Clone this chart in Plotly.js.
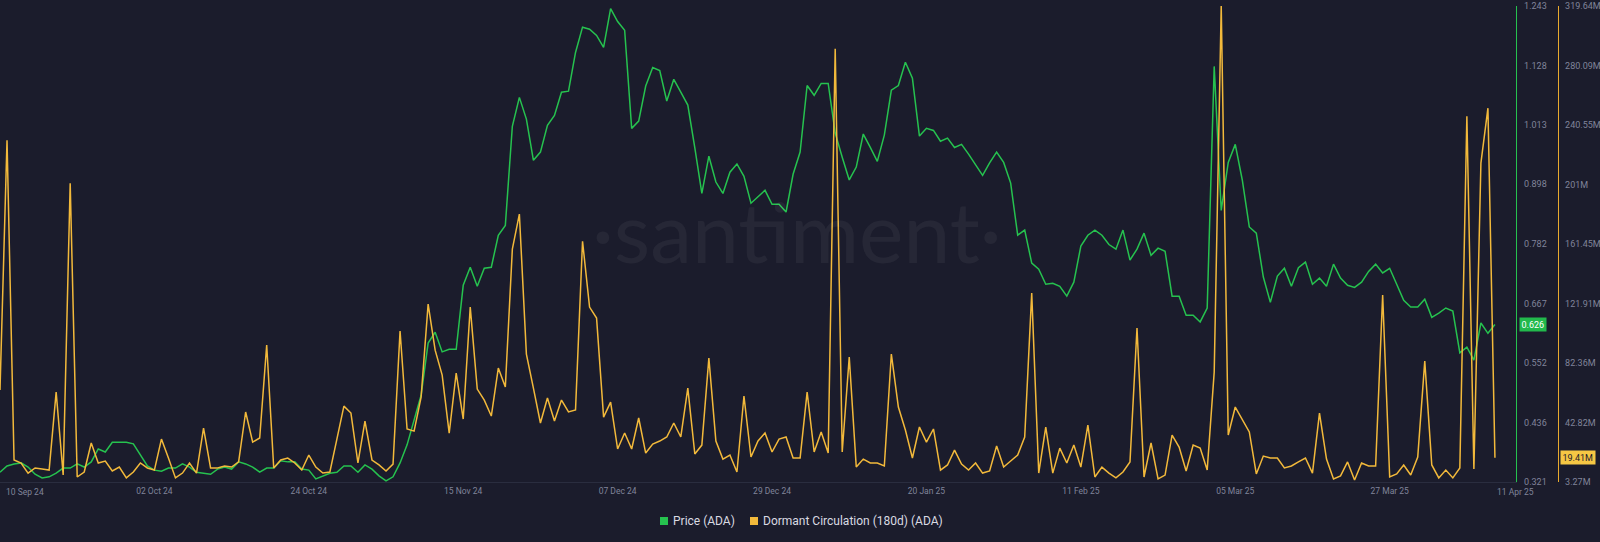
<!DOCTYPE html>
<html>
<head>
<meta charset="utf-8">
<script src="https://cdn.plot.ly/plotly-3.0.1.min.js"></script>
<style>
  html, body { margin: 0; padding: 0; background: #1b1c2c; }
  #chart { width: 1600px; height: 542px; }
</style>
</head>
<body>
<div id="chart"></div>
<script>
// ---- Data (daily, starting 10 Sep 2024, ending 11 Apr 2025) ----
const startDate = '2024-09-10';

// Price (ADA), USD
const price = [
  0.340,0.352,0.356,0.358,0.350,0.336,0.329,0.331,0.338,0.348,
  0.348,0.356,0.350,0.360,0.385,0.379,0.398,0.398,0.398,0.395,
  0.373,0.352,0.344,0.342,0.348,0.348,0.356,0.350,0.340,0.338,
  0.336,0.346,0.350,0.346,0.360,0.356,0.350,0.340,0.348,0.348,
  0.362,0.360,0.360,0.346,0.344,0.327,0.333,0.338,0.340,0.352,
  0.352,0.340,0.354,0.346,0.333,0.323,0.331,0.358,0.393,0.439,
  0.489,0.590,0.611,0.573,0.578,0.578,0.702,0.737,0.700,0.735,
  0.737,0.799,0.818,1.010,1.066,1.024,0.944,0.960,1.012,1.031,
  1.076,1.078,1.153,1.202,1.198,1.186,1.163,1.238,1.213,1.196,
  1.006,1.020,1.088,1.124,1.118,1.059,1.101,1.076,1.051,0.968,
  0.880,0.952,0.902,0.880,0.921,0.937,0.913,0.861,0.873,0.886,
  0.859,0.859,0.844,0.917,0.960,1.089,1.070,1.093,1.093,0.997,
  0.950,0.906,0.931,0.995,0.969,0.942,0.993,1.080,1.089,1.134,
  1.103,0.991,1.006,1.002,0.981,0.987,0.969,0.975,0.956,0.935,
  0.915,0.939,0.960,0.940,0.900,0.799,0.809,0.745,0.733,0.704,
  0.706,0.700,0.681,0.708,0.778,0.799,0.809,0.799,0.781,0.772,
  0.809,0.751,0.772,0.803,0.760,0.774,0.768,0.681,0.681,0.644,
  0.644,0.631,0.658,1.126,0.847,0.940,0.975,0.906,0.815,0.803,
  0.718,0.669,0.720,0.735,0.700,0.736,0.747,0.704,0.716,0.700,
  0.743,0.716,0.702,0.698,0.708,0.729,0.743,0.726,0.735,0.704,
  0.673,0.660,0.660,0.675,0.640,0.648,0.658,0.652,0.571,0.582,
  0.557,0.629,0.609,0.626
];

// Dormant Circulation (180d) (ADA), millions
const dormant = [
  64.4,230.4,17.9,15.9,9.2,12.6,11.9,11.2,63.0,7.9,
  201.8,6.6,9.9,29.2,15.9,17.2,10.6,13.2,6.0,9.9,
  15.9,12.6,11.2,31.8,19.2,6.0,9.2,15.9,9.2,39.1,
  12.6,12.6,13.9,13.2,16.6,49.8,29.8,32.5,94.3,12.6,
  17.9,19.2,15.9,11.2,21.2,13.2,9.2,9.9,31.8,53.7,
  49.1,15.9,43.8,17.9,14.6,10.6,15.2,103.6,38.5,37.1,
  59.7,121.5,90.9,74.3,35.8,75.7,45.1,119.5,65.0,57.7,
  47.1,79.0,66.4,158.0,181.3,88.3,65.7,42.5,59.1,43.8,
  57.7,49.8,51.1,163.3,119.5,112.2,46.4,56.4,25.2,35.8,
  25.2,45.8,22.5,28.5,30.5,33.2,42.5,33.2,65.7,21.9,
  27.8,85.6,30.5,18.5,21.2,9.9,60.4,19.9,30.5,35.8,
  23.2,31.8,33.2,19.2,19.2,63.0,23.2,36.5,22.5,291.3,
  23.2,86.3,13.2,18.5,15.9,15.9,13.9,88.3,53.1,37.8,
  19.2,39.8,29.8,38.5,11.2,14.6,24.5,15.2,11.2,15.9,
  9.2,10.6,27.2,13.2,17.2,21.2,33.2,128.8,9.2,39.8,
  9.2,25.8,15.9,27.8,13.2,41.1,6.6,13.2,9.2,6.0,
  9.9,16.6,105.6,6.6,29.2,5.3,7.9,34.5,26.5,10.6,
  27.8,25.8,11.2,76.3,319.64,34.5,53.1,45.1,36.5,8.6,
  20.5,19.2,19.2,12.6,13.9,16.6,19.2,9.2,49.1,18.5,
  5.3,7.3,16.6,4.6,15.9,13.9,13.9,127.5,6.6,8.6,
  14.6,7.9,19.9,83.6,14.6,6.0,11.2,6.0,12.6,246.4,
  11.9,215.2,251.7,19.41
];

// Axis ticks
const xTickDates  = ['2024-10-02','2024-10-24','2024-11-15','2024-12-07','2024-12-29','2025-01-20','2025-02-11','2025-03-05','2025-03-27'];
const xTickLabels = ['02 Oct 24','24 Oct 24','15 Nov 24','07 Dec 24','29 Dec 24','20 Jan 25','11 Feb 25','05 Mar 25','27 Mar 25'];
const xEdgeDates  = ['2024-09-10','2025-04-11'];
const xEdgeLabels = ['10 Sep 24','11 Apr 25'];
const priceTicks  = [0.321,0.436,0.552,0.667,0.782,0.898,1.013,1.128,1.243];
const dormantTicks = [3.27,42.82,82.36,121.91,161.45,201,240.55,280.09,319.64];
const dormantTickLabels = ['3.27M','42.82M','82.36M','121.91M','161.45M','201M','240.55M','280.09M','319.64M'];
const seriesNames = ['Price (ADA)', 'Dormant Circulation (180d) (ADA)'];
const lastPriceLabel = '0.626';
const lastDormantLabel = '19.41M';

// ---- Build dates ----
const dates = [];
{
  const [yy, mm, dd] = startDate.split('-').map(Number);
  for (let i = 0; i < price.length; i++) {
    const d = new Date(Date.UTC(yy, mm - 1, dd + i));
    dates.push(d.toISOString().slice(0, 10));
  }
}

const GREEN = '#26c24f';
const ORANGE = '#f2b93b';
const BG = '#1b1c2c';
const TICK = '#80849a';
const FONT = 'Roboto, "Open Sans", sans-serif';

// pixel helpers for legend placement (plot area: top 6px, bottom 482px)
const W = 1600, PT = 6, PB = 482;
const px = v => v / W;
const py = v => (PB - v) / (PB - PT);

const traces = [
  { x: dates, y: price, type: 'scatter', mode: 'lines', name: seriesNames[0],
    line: { color: GREEN, width: 1.5 }, yaxis: 'y', showlegend: false, hoverinfo: 'x+y' },
  { x: dates, y: dormant, type: 'scatter', mode: 'lines', name: seriesNames[1],
    line: { color: ORANGE, width: 1.5 }, yaxis: 'y2', showlegend: false, hoverinfo: 'x+y' }
];

const layout = {
  width: 1600, height: 542,
  paper_bgcolor: BG, plot_bgcolor: BG,
  margin: { l: 0, r: 0, t: PT, b: 542 - PB },
  font: { family: FONT, color: TICK, size: 9 },
  showlegend: false,
  xaxis: {
    type: 'date', domain: [0, 1516 / 1600],
    range: ['2024-09-10', '2025-04-14'],
    tickmode: 'array', tickvals: xTickDates, ticktext: xTickLabels,
    showgrid: false, zeroline: false,
    showline: true, linecolor: '#2a2d3f', linewidth: 1,
    ticks: '', ticklabelstandoff: 1,
    tickfont: { family: FONT, color: TICK, size: 8.5 }
  },
  yaxis: {
    side: 'right', anchor: 'x',
    range: [0.321, 1.243],
    tickmode: 'array', tickvals: priceTicks, ticktext: priceTicks.map(v => v.toFixed(3)),
    showgrid: false, zeroline: false,
    showline: true, linecolor: GREEN, linewidth: 1.3,
    ticks: '', ticklabelstandoff: 5,
    tickfont: { family: FONT, color: TICK, size: 9 }
  },
  yaxis2: {
    overlaying: 'y', side: 'right', anchor: 'free', position: 1558 / 1600,
    range: [3.27, 319.64],
    tickmode: 'array', tickvals: dormantTicks, ticktext: dormantTickLabels,
    showgrid: false, zeroline: false,
    showline: true, linecolor: '#e9aa2e', linewidth: 1.3,
    ticks: '', ticklabelstandoff: 4,
    tickfont: { family: FONT, color: TICK, size: 9 }
  },
  shapes: [
    { type: 'rect', xref: 'paper', yref: 'paper', x0: px(660), x1: px(668), y0: py(525), y1: py(517),
      fillcolor: GREEN, line: { width: 0 } },
    { type: 'rect', xref: 'paper', yref: 'paper', x0: px(750), x1: px(758), y0: py(525), y1: py(517),
      fillcolor: ORANGE, line: { width: 0 } }
  ],
  annotations: [
    { text: '·santiment·', xref: 'paper', yref: 'paper', x: px(797), y: py(230),
      xanchor: 'center', yanchor: 'middle', showarrow: false,
      font: { family: 'Lato, "Open Sans", sans-serif', size: 84, color: 'rgba(255,255,255,0.05)', weight: 400 } },
    { text: seriesNames[0], xref: 'paper', yref: 'paper', x: px(671), y: py(521),
      xanchor: 'left', yanchor: 'middle', showarrow: false,
      font: { family: FONT, color: '#d9dae2', size: 12 } },
    { text: seriesNames[1], xref: 'paper', yref: 'paper', x: px(761), y: py(521),
      xanchor: 'left', yanchor: 'middle', showarrow: false,
      font: { family: FONT, color: '#d9dae2', size: 12 } },
    { text: xEdgeLabels[0], xref: 'x', yref: 'paper', x: xEdgeDates[0], y: py(492),
      xanchor: 'left', yanchor: 'middle', xshift: 4, showarrow: false,
      font: { family: FONT, color: TICK, size: 8.5 } },
    { text: xEdgeLabels[1], xref: 'x', yref: 'paper', x: xEdgeDates[1], y: py(492),
      xanchor: 'left', yanchor: 'middle', showarrow: false,
      font: { family: FONT, color: TICK, size: 8.5 } },
    { text: lastPriceLabel, xref: 'paper', yref: 'y', x: px(1519), y: price[price.length - 1],
      xanchor: 'left', yanchor: 'middle', showarrow: false,
      bgcolor: '#22b94c', borderpad: 1.5,
      font: { family: FONT, color: '#ffffff', size: 9 } },
    { text: lastDormantLabel, xref: 'paper', yref: 'y2', x: px(1560), y: dormant[dormant.length - 1],
      xanchor: 'left', yanchor: 'middle', showarrow: false,
      bgcolor: '#f6c744', borderpad: 1.5,
      font: { family: FONT, color: '#1b1c2c', size: 9 } }
  ]
};

Plotly.newPlot('chart', traces, layout, { displayModeBar: false, staticPlot: true });
</script>
</body>
</html>
